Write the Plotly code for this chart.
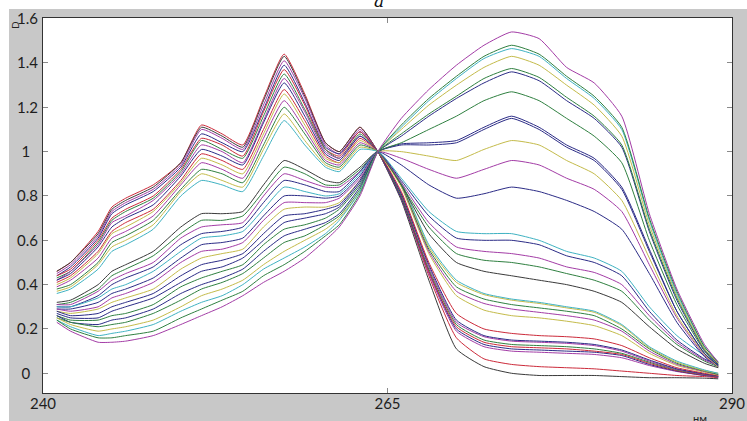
import plotly.graph_objects as go

# wavelength grid (nm)
wavelength = [241, 242, 244, 245, 246, 248, 250, 251.5, 253, 254.5, 256, 257.5, 259, 260.5, 261.5, 263,
              264.3, 266, 268, 270, 272, 274, 276, 278, 280, 282, 284, 286, 288, 289]

# upper-left family (high at 257.5 nm, low at 274 nm)
u00 = [0.46, 0.50, 0.64, 0.75, 0.79, 0.85, 0.95, 1.12, 1.08, 1.03, 1.24, 1.44, 1.26, 1.04, 1.00, 1.11, 1.0, 0.79, 0.44, 0.16, 0.065, 0.04, 0.03, 0.025, 0.02, 0.01, 0.0, -0.01, -0.015, -0.02]
u01 = [0.46, 0.50, 0.63, 0.74, 0.78, 0.84, 0.95, 1.11, 1.07, 1.02, 1.23, 1.43, 1.25, 1.04, 1.00, 1.11, 1.0, 0.78, 0.42, 0.11, 0.03, 0.0, -0.01, -0.01, -0.01, -0.015, -0.02, -0.02, -0.022, -0.025]
u02 = [0.45, 0.49, 0.62, 0.73, 0.77, 0.83, 0.94, 1.10, 1.06, 1.01, 1.21, 1.41, 1.24, 1.03, 0.99, 1.10, 1.0, 0.79, 0.45, 0.19, 0.12, 0.10, 0.095, 0.09, 0.085, 0.07, 0.035, 0.008, -0.01, -0.017]
u03 = [0.44, 0.48, 0.61, 0.72, 0.76, 0.82, 0.93, 1.08, 1.04, 1.00, 1.19, 1.39, 1.22, 1.02, 0.99, 1.09, 1.0, 0.79, 0.46, 0.20, 0.13, 0.11, 0.105, 0.10, 0.095, 0.08, 0.04, 0.01, -0.01, -0.016]
u04 = [0.44, 0.47, 0.60, 0.70, 0.74, 0.80, 0.92, 1.06, 1.03, 0.98, 1.18, 1.37, 1.21, 1.01, 0.98, 1.09, 1.0, 0.80, 0.46, 0.21, 0.14, 0.12, 0.115, 0.11, 0.10, 0.085, 0.045, 0.012, -0.008, -0.015]
u05 = [0.43, 0.46, 0.59, 0.69, 0.73, 0.79, 0.91, 1.05, 1.01, 0.97, 1.16, 1.35, 1.19, 1.01, 0.97, 1.08, 1.0, 0.80, 0.47, 0.22, 0.15, 0.13, 0.125, 0.12, 0.11, 0.09, 0.05, 0.015, -0.006, -0.014]
u06 = [0.42, 0.46, 0.58, 0.68, 0.71, 0.78, 0.90, 1.03, 1.00, 0.95, 1.14, 1.33, 1.18, 1.00, 0.97, 1.07, 1.0, 0.81, 0.48, 0.23, 0.165, 0.145, 0.14, 0.135, 0.125, 0.10, 0.055, 0.018, -0.005, -0.013]
u07 = [0.42, 0.45, 0.57, 0.66, 0.70, 0.76, 0.89, 1.01, 0.98, 0.94, 1.13, 1.31, 1.16, 0.99, 0.96, 1.07, 1.0, 0.81, 0.49, 0.24, 0.17, 0.15, 0.145, 0.14, 0.13, 0.105, 0.06, 0.02, -0.003, -0.012]
u08 = [0.41, 0.44, 0.55, 0.64, 0.68, 0.74, 0.87, 0.99, 0.96, 0.92, 1.10, 1.28, 1.14, 0.98, 0.95, 1.06, 1.0, 0.82, 0.50, 0.27, 0.20, 0.18, 0.17, 0.165, 0.155, 0.125, 0.07, 0.025, 0.0, -0.01]
u09 = [0.40, 0.43, 0.54, 0.63, 0.66, 0.73, 0.86, 0.97, 0.94, 0.90, 1.08, 1.26, 1.12, 0.97, 0.95, 1.05, 1.0, 0.84, 0.54, 0.35, 0.285, 0.26, 0.25, 0.235, 0.215, 0.17, 0.09, 0.035, 0.005, -0.008]
u10 = [0.39, 0.42, 0.52, 0.61, 0.64, 0.71, 0.85, 0.95, 0.92, 0.88, 1.06, 1.23, 1.10, 0.96, 0.94, 1.04, 1.0, 0.85, 0.55, 0.37, 0.315, 0.29, 0.275, 0.26, 0.24, 0.19, 0.10, 0.04, 0.008, -0.005]
u11 = [0.38, 0.40, 0.50, 0.59, 0.62, 0.69, 0.83, 0.92, 0.90, 0.86, 1.03, 1.20, 1.08, 0.95, 0.93, 1.03, 1.0, 0.85, 0.56, 0.39, 0.335, 0.31, 0.295, 0.28, 0.26, 0.20, 0.11, 0.045, 0.01, -0.005]
u12 = [0.37, 0.39, 0.49, 0.57, 0.60, 0.67, 0.82, 0.90, 0.87, 0.84, 1.01, 1.17, 1.05, 0.94, 0.92, 1.02, 1.0, 0.86, 0.57, 0.41, 0.355, 0.33, 0.315, 0.295, 0.275, 0.215, 0.115, 0.05, 0.012, 0.0]
u13 = [0.36, 0.38, 0.47, 0.55, 0.58, 0.65, 0.80, 0.87, 0.85, 0.82, 0.98, 1.14, 1.03, 0.93, 0.91, 1.01, 1.0, 0.86, 0.58, 0.42, 0.36, 0.335, 0.32, 0.30, 0.28, 0.22, 0.12, 0.055, 0.015, 0.0]

# lower-left family (low at 257.5 nm, high at 274 nm)
l00 = [0.32, 0.33, 0.40, 0.46, 0.49, 0.55, 0.66, 0.72, 0.72, 0.73, 0.85, 0.96, 0.92, 0.87, 0.86, 0.93, 1.0, 0.85, 0.63, 0.50, 0.46, 0.44, 0.42, 0.40, 0.37, 0.32, 0.21, 0.11, 0.045, 0.025]
l01 = [0.31, 0.32, 0.38, 0.44, 0.47, 0.53, 0.63, 0.69, 0.69, 0.71, 0.82, 0.93, 0.90, 0.85, 0.85, 0.92, 1.0, 0.85, 0.66, 0.54, 0.51, 0.50, 0.48, 0.45, 0.42, 0.37, 0.24, 0.13, 0.055, 0.03]
l02 = [0.31, 0.31, 0.37, 0.42, 0.45, 0.50, 0.61, 0.66, 0.67, 0.68, 0.80, 0.90, 0.87, 0.84, 0.84, 0.91, 1.0, 0.86, 0.68, 0.57, 0.55, 0.54, 0.52, 0.48, 0.455, 0.40, 0.26, 0.14, 0.06, 0.035]
l03 = [0.30, 0.30, 0.35, 0.40, 0.43, 0.48, 0.58, 0.63, 0.64, 0.66, 0.77, 0.87, 0.85, 0.82, 0.82, 0.91, 1.0, 0.87, 0.71, 0.61, 0.60, 0.60, 0.58, 0.53, 0.50, 0.44, 0.28, 0.15, 0.065, 0.04]
l04 = [0.30, 0.30, 0.34, 0.38, 0.40, 0.46, 0.55, 0.61, 0.62, 0.64, 0.74, 0.84, 0.82, 0.80, 0.81, 0.90, 1.0, 0.88, 0.73, 0.64, 0.63, 0.63, 0.60, 0.55, 0.52, 0.46, 0.30, 0.17, 0.08, 0.05]
l05 = [0.29, 0.29, 0.32, 0.36, 0.38, 0.43, 0.52, 0.58, 0.59, 0.61, 0.71, 0.80, 0.80, 0.79, 0.80, 0.89, 1.0, 0.94, 0.85, 0.79, 0.81, 0.84, 0.82, 0.78, 0.73, 0.65, 0.45, 0.23, 0.075, 0.03]
l06 = [0.29, 0.28, 0.30, 0.34, 0.36, 0.41, 0.50, 0.55, 0.56, 0.59, 0.69, 0.77, 0.77, 0.77, 0.79, 0.88, 1.0, 0.97, 0.92, 0.88, 0.92, 0.96, 0.94, 0.88, 0.83, 0.73, 0.49, 0.25, 0.08, 0.03]
l07 = [0.28, 0.27, 0.29, 0.32, 0.34, 0.38, 0.47, 0.52, 0.54, 0.56, 0.66, 0.74, 0.75, 0.75, 0.77, 0.87, 1.0, 1.00, 0.98, 0.96, 1.01, 1.05, 1.03, 0.96, 0.90, 0.78, 0.52, 0.26, 0.085, 0.03]
l08 = [0.28, 0.26, 0.27, 0.30, 0.32, 0.36, 0.44, 0.49, 0.51, 0.54, 0.63, 0.71, 0.72, 0.74, 0.76, 0.87, 1.0, 1.03, 1.03, 1.04, 1.10, 1.15, 1.10, 1.02, 0.96, 0.83, 0.55, 0.28, 0.09, 0.035]
l09 = [0.27, 0.25, 0.25, 0.28, 0.30, 0.34, 0.41, 0.46, 0.48, 0.52, 0.60, 0.68, 0.70, 0.72, 0.75, 0.86, 1.0, 1.035, 1.04, 1.05, 1.11, 1.16, 1.11, 1.03, 0.97, 0.84, 0.56, 0.28, 0.09, 0.035]
l10 = [0.26, 0.24, 0.24, 0.26, 0.27, 0.31, 0.39, 0.43, 0.46, 0.49, 0.58, 0.65, 0.67, 0.70, 0.74, 0.85, 1.0, 1.04, 1.10, 1.16, 1.23, 1.27, 1.23, 1.15, 1.07, 0.95, 0.60, 0.31, 0.10, 0.04]
l11 = [0.26, 0.23, 0.22, 0.24, 0.25, 0.29, 0.36, 0.40, 0.43, 0.47, 0.55, 0.62, 0.65, 0.68, 0.72, 0.84, 1.0, 1.07, 1.16, 1.24, 1.31, 1.36, 1.32, 1.23, 1.15, 1.02, 0.64, 0.33, 0.105, 0.04]
l12 = [0.25, 0.23, 0.21, 0.22, 0.23, 0.27, 0.33, 0.38, 0.41, 0.45, 0.52, 0.59, 0.62, 0.67, 0.71, 0.83, 1.0, 1.08, 1.17, 1.25, 1.33, 1.375, 1.335, 1.245, 1.16, 1.03, 0.65, 0.34, 0.11, 0.045]
l13 = [0.25, 0.22, 0.19, 0.20, 0.21, 0.24, 0.30, 0.35, 0.38, 0.42, 0.49, 0.55, 0.60, 0.65, 0.70, 0.82, 1.0, 1.10, 1.21, 1.30, 1.38, 1.43, 1.39, 1.30, 1.21, 1.07, 0.67, 0.35, 0.11, 0.045]
l14 = [0.24, 0.21, 0.17, 0.18, 0.19, 0.22, 0.28, 0.32, 0.35, 0.40, 0.47, 0.52, 0.57, 0.63, 0.69, 0.82, 1.0, 1.11, 1.23, 1.33, 1.42, 1.465, 1.43, 1.33, 1.24, 1.10, 0.69, 0.36, 0.12, 0.05]
l15 = [0.24, 0.20, 0.16, 0.16, 0.17, 0.19, 0.25, 0.29, 0.33, 0.37, 0.44, 0.49, 0.55, 0.62, 0.67, 0.81, 1.0, 1.12, 1.24, 1.34, 1.43, 1.48, 1.44, 1.34, 1.25, 1.11, 0.70, 0.37, 0.12, 0.05]
l16 = [0.23, 0.19, 0.14, 0.14, 0.145, 0.17, 0.22, 0.26, 0.30, 0.35, 0.41, 0.46, 0.52, 0.60, 0.66, 0.80, 1.0, 1.15, 1.28, 1.39, 1.48, 1.54, 1.51, 1.38, 1.31, 1.16, 0.72, 0.38, 0.13, 0.05]

NAVY, GREEN, RED, CYAN, MAG, YEL, BLK = "#2b2b86", "#2f8040", "#cc2a3a", "#3fb2c2", "#a33ca6", "#c4bb4a", "#3a3a3a"

series = [u00, u01, u02, u03, u04, u05, u06, u07, u08, u09, u10, u11, u12, u13,
          l00, l01, l02, l03, l04, l05, l06, l07, l08, l09, l10, l11, l12, l13, l14, l15, l16]
colors = [RED, BLK, MAG, NAVY, RED, GREEN, MAG, NAVY, RED, YEL, MAG, GREEN, YEL, CYAN,
          BLK, GREEN, MAG, NAVY, CYAN, NAVY, MAG, YEL, NAVY, NAVY, GREEN, NAVY, GREEN, YEL, CYAN, GREEN, MAG]

x_ticks = [240, 265, 290]
y_ticks = [0, 0.2, 0.4, 0.6, 0.8, 1, 1.2, 1.4, 1.6]
NB = "\u00a0\u00a0"
y_tick_labels = ["0" + NB, "0.2", "0.4", "0.6", "0.8", "1" + NB, "1.2", "1.4", "1.6"]

fig = go.Figure()
for s, c in zip(series, colors):
    fig.add_trace(go.Scatter(x=wavelength, y=s, mode="lines",
                             line=dict(color=c, width=1, shape="spline", smoothing=0.5),
                             showlegend=False, hoverinfo="skip"))

W, H = 747, 421
L, R, T, B = 43, 15, 18, 28
pw, ph = W - L - R, H - T - B

def px(xp):
    return (xp - L) / pw

def py(yp):
    return (H - B - yp) / ph

tickfont = dict(family="Lato, 'Open Sans', sans-serif", size=15, color="#1e1e1e")

fig.update_layout(
    width=W, height=H,
    margin=dict(l=L, r=R, t=T, b=B, autoexpand=False),
    paper_bgcolor="#c8c8c8",
    plot_bgcolor="#ffffff",
    xaxis=dict(range=[240, 290], tickvals=x_ticks, ticks="inside", ticklen=5, tickcolor="#8a8a8a",
               mirror="ticks", showline=True, linecolor="#333333", linewidth=1, automargin=False,
               showgrid=False, zeroline=False, tickfont=tickfont, ticklabelstandoff=-3),
    yaxis=dict(range=[-0.089, 1.603], tickvals=y_ticks, ticktext=y_tick_labels, ticks="inside",
               ticklen=5, tickcolor="#8a8a8a",
               mirror="ticks", showline=True, linecolor="#333333", linewidth=1, automargin=False,
               showgrid=False, zeroline=False, tickfont=tickfont, ticklabelstandoff=1),
    shapes=[
        dict(type="rect", xref="paper", yref="paper", x0=px(0), x1=px(9), y0=py(H), y1=py(0),
             fillcolor="#ffffff", line=dict(width=0), layer="below"),
        dict(type="rect", xref="paper", yref="paper", x0=px(0), x1=px(W), y0=py(9), y1=py(0),
             fillcolor="#ffffff", line=dict(width=0), layer="below"),
    ],
    annotations=[
        dict(text="<i>a</i>", xref="paper", yref="paper", x=px(379), y=py(1), xanchor="center",
             yanchor="middle", showarrow=False,
             font=dict(family="'DejaVu Serif', serif", size=17, color="#111111")),
        dict(text="D", xref="paper", yref="paper", x=px(15), y=py(25), xanchor="center",
             yanchor="middle", textangle=-90, showarrow=False,
             font=dict(family="Lato, sans-serif", size=10, color="#222222")),
        dict(text="нм", xref="paper", yref="paper", x=px(700), y=py(410), xanchor="center",
             yanchor="top", showarrow=False,
             font=dict(family="Lato, sans-serif", size=11, color="#222222")),
    ],
)

fig.write_html("out.html", config={"displayModeBar": False},
               post_script="document.body.style.margin='0';")
